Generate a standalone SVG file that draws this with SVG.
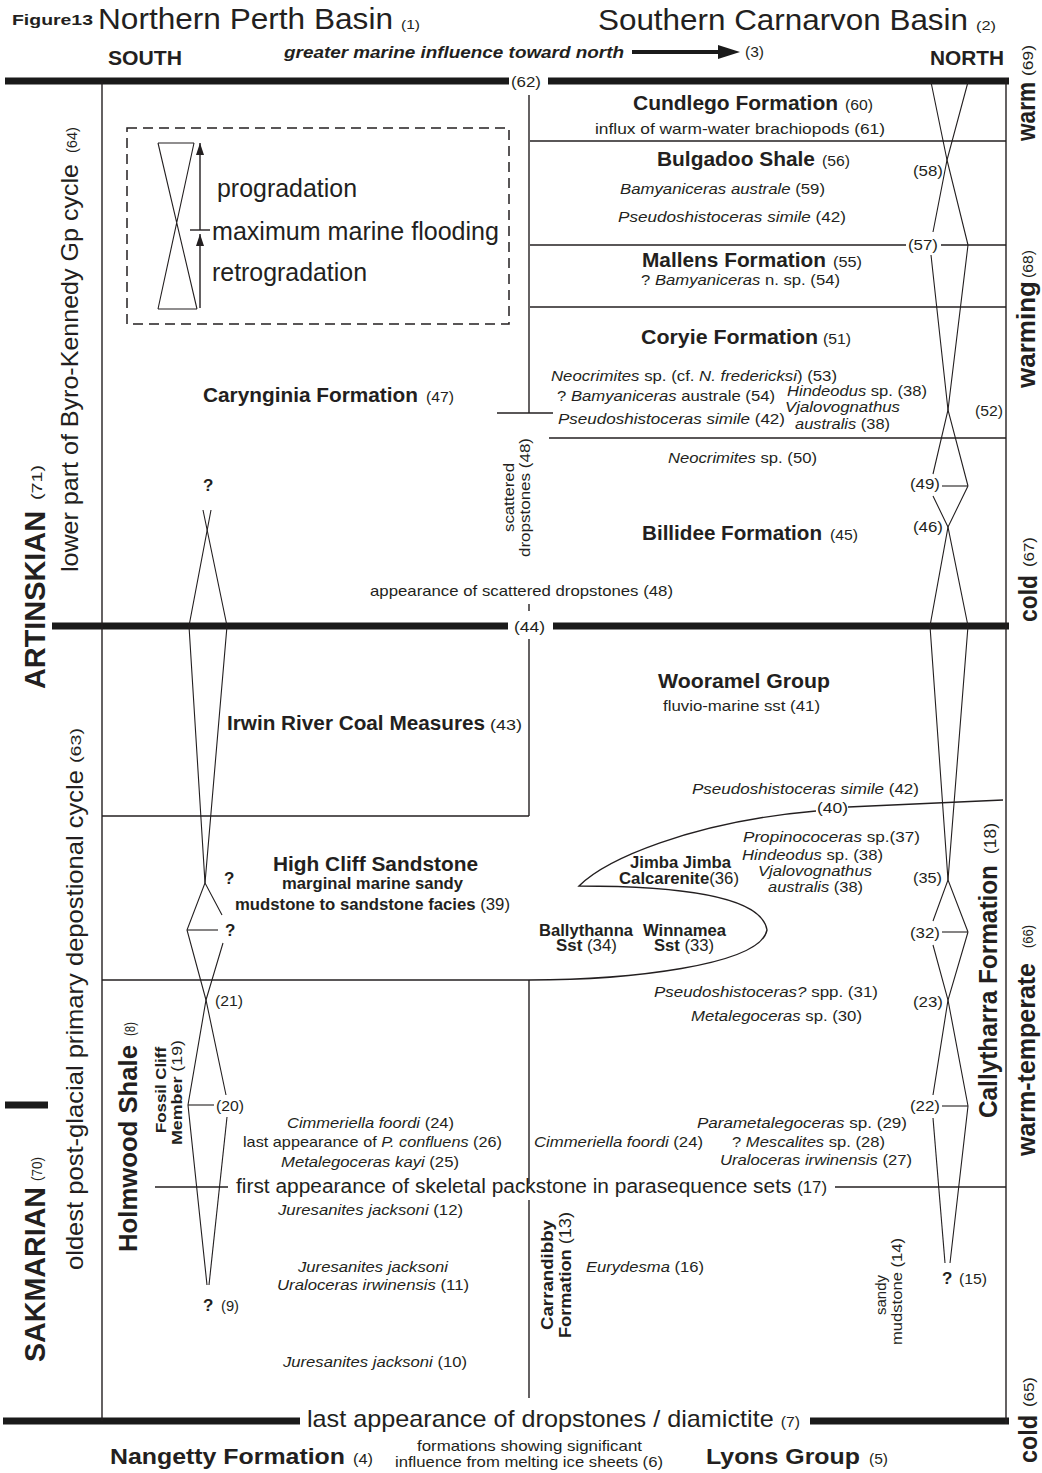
<svg xmlns="http://www.w3.org/2000/svg" width="1042" height="1473" viewBox="0 0 1042 1473">
<style>
text{font-family:"Liberation Sans",Arial,Helvetica,sans-serif;fill:#231f20}
.b{font-weight:bold}
.i{font-style:italic}
.r{font-style:normal;font-weight:normal}
.bi{font-weight:bold;font-style:italic}
.n{font-size:14px}
.sp{font-size:15px}
.fm{font-size:20px;font-weight:bold}
.ln{stroke:#231f20;stroke-width:1.4;fill:none}
.hg{stroke:#231f20;stroke-width:1.1;fill:none}
.tk{stroke:#1a1a1a;stroke-width:7;fill:none}
</style>
<defs>
<marker id="ah" viewBox="0 0 12 8" refX="12" refY="4" markerWidth="12" markerHeight="8" markerUnits="userSpaceOnUse" orient="auto">
<path d="M0,0 L12,4 L0,8 z" fill="#231f20"/>
</marker>
</defs>
<rect width="1042" height="1473" fill="#ffffff"/>

<g id="header">
<text x="12" y="25" class="b" font-size="15" textLength="81" lengthAdjust="spacingAndGlyphs">Figure13</text>
<text x="98" y="29" font-size="30" textLength="295" lengthAdjust="spacingAndGlyphs">Northern Perth Basin</text>
<text x="401" y="29" font-size="13" textLength="19" lengthAdjust="spacingAndGlyphs">(1)</text>
<text x="598" y="30" font-size="30" textLength="370" lengthAdjust="spacingAndGlyphs">Southern Carnarvon Basin</text>
<text x="976" y="30" font-size="13" textLength="20" lengthAdjust="spacingAndGlyphs">(2)</text>
<text x="108" y="65" class="b" font-size="21" textLength="74" lengthAdjust="spacingAndGlyphs">SOUTH</text>
<text x="284" y="58" class="bi" font-size="17" textLength="340" lengthAdjust="spacingAndGlyphs">greater marine influence toward north</text>
<line x1="632" y1="52" x2="722" y2="52" stroke="#1a1a1a" stroke-width="4"/>
<polygon points="718,45 740,52 718,59" fill="#1a1a1a"/>
<text x="745" y="57" font-size="14" textLength="19" lengthAdjust="spacingAndGlyphs">(3)</text>
<text x="930" y="65" class="b" font-size="21" textLength="74" lengthAdjust="spacingAndGlyphs">NORTH</text>
</g>

<g id="frame">
<line class="tk" x1="5" y1="81" x2="509" y2="81" stroke-width="6"/>
<line class="tk" x1="548" y1="81" x2="1009" y2="81" stroke-width="6"/>
<line class="tk" x1="52" y1="626" x2="508" y2="626"/>
<line class="tk" x1="553" y1="626" x2="1009" y2="626"/>
<line class="tk" x1="3" y1="1421" x2="300" y2="1421"/>
<line class="tk" x1="810" y1="1421" x2="1009" y2="1421"/>
<line class="tk" x1="5" y1="1105" x2="48" y2="1105" stroke-width="5"/>
<line class="ln" x1="102" y1="81" x2="102" y2="1421"/>
<line class="ln" x1="1006" y1="78" x2="1006" y2="1424" stroke-width="2"/>
<text x="511" y="87" class="n" textLength="30" lengthAdjust="spacingAndGlyphs">(62)</text>
<text x="514" y="632" class="n" textLength="31" lengthAdjust="spacingAndGlyphs">(44)</text>
</g>

<g id="connectors">
<line class="ln" x1="530" y1="141" x2="1006" y2="141"/>
<line class="ln" x1="530" y1="245" x2="906" y2="245"/>
<line class="ln" x1="941" y1="245" x2="1006" y2="245"/>
<line class="ln" x1="530" y1="307" x2="1006" y2="307"/>
<line class="ln" x1="497" y1="413" x2="553" y2="413"/>
<line class="ln" x1="549" y1="438" x2="1006" y2="438"/>
<line class="ln" x1="529" y1="95" x2="529" y2="413"/>
<line class="ln" x1="529" y1="604" x2="529" y2="611" stroke-width="2"/>
<line class="ln" x1="529" y1="639" x2="529" y2="816"/>
<line class="ln" x1="529" y1="980" x2="529" y2="1184"/>
<line class="ln" x1="529" y1="1200" x2="529" y2="1398"/>
<line class="ln" x1="102" y1="816" x2="529" y2="816"/>
<line class="ln" x1="102" y1="980" x2="529" y2="980"/>
<line class="ln" x1="155" y1="1187" x2="228" y2="1187"/>
<line class="ln" x1="835" y1="1187" x2="1006" y2="1187"/>
<path class="ln" stroke-width="1.8" d="M529,980 C625,980 760,966 767,930 C762,898 690,886 579,886 C605,860 690,822 816,811"/>
<path class="ln" stroke-width="1.8" d="M848,807 L1003,800"/>
</g>

<g id="legend">
<rect x="127" y="128" width="382" height="196" fill="none" stroke="#231f20" stroke-width="1.5" stroke-dasharray="10,6"/>
<path class="hg" d="M158,143 L194,143 M158,309 L197,309 M158,143 L197,309 M194,143 L158,309"/>
<line class="ln" x1="200" y1="230" x2="200" y2="143" marker-end="url(#ah)"/>
<line class="ln" x1="200" y1="308" x2="200" y2="234" marker-end="url(#ah)"/>
<line class="ln" x1="190" y1="230" x2="210" y2="230"/>
<text x="217" y="197" font-size="25" textLength="140" lengthAdjust="spacingAndGlyphs">progradation</text>
<text x="212" y="240" font-size="25" textLength="287" lengthAdjust="spacingAndGlyphs">maximum marine flooding</text>
<text x="212" y="281" font-size="25" textLength="155" lengthAdjust="spacingAndGlyphs">retrogradation</text>
</g>

<g id="left-labels">
<text transform="translate(45,689) rotate(-90)" class="b" font-size="30" textLength="178" lengthAdjust="spacingAndGlyphs">ARTINSKIAN</text>
<text transform="translate(42,500) rotate(-90)" font-size="15" textLength="35" lengthAdjust="spacingAndGlyphs">(71)</text>
<text transform="translate(78,572) rotate(-90)" font-size="24" textLength="408" lengthAdjust="spacingAndGlyphs">lower part of Byro-Kennedy Gp cycle</text>
<text transform="translate(77,153) rotate(-90)" font-size="14" textLength="26" lengthAdjust="spacingAndGlyphs">(64)</text>
<text transform="translate(45,1362) rotate(-90)" class="b" font-size="30" textLength="175" lengthAdjust="spacingAndGlyphs">SAKMARIAN</text>
<text transform="translate(42,1181) rotate(-90)" font-size="15" textLength="24" lengthAdjust="spacingAndGlyphs">(70)</text>
<text transform="translate(83,1270) rotate(-90)" font-size="24" textLength="500" lengthAdjust="spacingAndGlyphs">oldest post-glacial  primary  depostional cycle</text>
<text transform="translate(81,763) rotate(-90)" font-size="14" textLength="35" lengthAdjust="spacingAndGlyphs">(63)</text>
</g>

<g id="holmwood">
<text transform="translate(137,1252) rotate(-90)" class="b" font-size="26" textLength="207" lengthAdjust="spacingAndGlyphs">Holmwood Shale</text>
<text transform="translate(135,1036) rotate(-90)" font-size="14" textLength="14" lengthAdjust="spacingAndGlyphs">(8)</text>
<text transform="translate(166,1133) rotate(-90)" class="b" font-size="15" textLength="86" lengthAdjust="spacingAndGlyphs">Fossil Cliff</text>
<text transform="translate(182,1145) rotate(-90)" font-size="15" textLength="105" lengthAdjust="spacingAndGlyphs"><tspan class="b">Member</tspan> (19)</text>
</g>

<g id="left-column-cycles">
<polyline class="hg" points="211,510 189,626 205,883 187,930 206,1000 226,1095"/>
<polyline class="hg" points="203,510 227,626 205,883 222,915"/>
<line class="hg" x1="187" y1="930" x2="218" y2="930" stroke-width="1.4"/>
<polyline class="hg" points="223,943 206,1000 188,1105 207,1285"/>
<polyline class="hg" points="227,1117 209,1285"/>
<line class="hg" x1="188" y1="1105" x2="214" y2="1105" stroke-width="1.4"/>
<text x="203" y="491" class="b" font-size="17">?</text>
<text x="224" y="884" class="b" font-size="17">?</text>
<text x="225" y="936" class="b" font-size="17">?</text>
<text x="215" y="1006" class="n" textLength="28" lengthAdjust="spacingAndGlyphs">(21)</text>
<text x="216" y="1111" class="n" textLength="28" lengthAdjust="spacingAndGlyphs">(20)</text>
<text x="203" y="1311" class="b" font-size="17">?</text>
<text x="221" y="1311" class="n" textLength="18" lengthAdjust="spacingAndGlyphs">(9)</text>
</g>

<g id="carynginia">
<text x="203" y="402" class="fm" textLength="215" lengthAdjust="spacingAndGlyphs">Carynginia Formation</text>
<text x="426" y="402" class="n" textLength="28" lengthAdjust="spacingAndGlyphs">(47)</text>
</g>

<g id="scattered-dropstones">
<text transform="translate(514,532) rotate(-90)" class="n" textLength="69" lengthAdjust="spacingAndGlyphs">scattered</text>
<text transform="translate(530,557) rotate(-90)" class="n" textLength="119" lengthAdjust="spacingAndGlyphs">dropstones  (48)</text>
<text x="370" y="596" class="sp" textLength="303" lengthAdjust="spacingAndGlyphs">appearance of scattered dropstones (48)</text>
</g>

<g id="cundlego">
<text x="633" y="110" class="fm" font-size="19" textLength="205" lengthAdjust="spacingAndGlyphs">Cundlego Formation</text>
<text x="845" y="110" class="n" textLength="28" lengthAdjust="spacingAndGlyphs">(60)</text>
<text x="595" y="134" class="sp" textLength="290" lengthAdjust="spacingAndGlyphs">influx of  warm-water  brachiopods (61)</text>
</g>

<g id="bulgadoo">
<text x="657" y="166" class="fm" font-size="19" textLength="158" lengthAdjust="spacingAndGlyphs">Bulgadoo Shale</text>
<text x="822" y="166" class="n" textLength="28" lengthAdjust="spacingAndGlyphs">(56)</text>
<text x="620" y="194" class="sp" textLength="205" lengthAdjust="spacingAndGlyphs"><tspan class="i">Bamyaniceras australe</tspan> (59)</text>
<text x="618" y="222" class="sp" textLength="228" lengthAdjust="spacingAndGlyphs"><tspan class="i">Pseudoshistoceras simile</tspan>  (42)</text>
</g>

<g id="mallens">
<text x="642" y="267" class="fm" font-size="19" textLength="184" lengthAdjust="spacingAndGlyphs">Mallens Formation</text>
<text x="833" y="267" class="n" textLength="29" lengthAdjust="spacingAndGlyphs">(55)</text>
<text x="641" y="285" class="sp" textLength="199" lengthAdjust="spacingAndGlyphs">? <tspan class="i">Bamyaniceras</tspan> n. sp. (54)</text>
</g>

<g id="coryie">
<text x="641" y="344" class="fm" font-size="19" textLength="177" lengthAdjust="spacingAndGlyphs">Coryie Formation</text>
<text x="823" y="344" class="n" textLength="28" lengthAdjust="spacingAndGlyphs">(51)</text>
<text x="551" y="381" class="sp" textLength="286" lengthAdjust="spacingAndGlyphs"><tspan class="i">Neocrimites</tspan> sp. (cf. <tspan class="i">N. fredericksi</tspan>) (53)</text>
<text x="557" y="401" class="sp" textLength="218" lengthAdjust="spacingAndGlyphs">? <tspan class="i">Bamyaniceras</tspan> australe (54)</text>
<text x="558" y="424" class="sp" textLength="227" lengthAdjust="spacingAndGlyphs"><tspan class="i">Pseudoshistoceras simile</tspan>  (42)</text>
<text x="787" y="396" class="sp" textLength="140" lengthAdjust="spacingAndGlyphs"><tspan class="i">Hindeodus</tspan> sp. (38)</text>
<text x="785" y="412" class="sp i" textLength="115" lengthAdjust="spacingAndGlyphs">Vjalovognathus</text>
<text x="795" y="429" class="sp" textLength="95" lengthAdjust="spacingAndGlyphs"><tspan class="i">australis</tspan> (38)</text>
</g>

<g id="billidee">
<text x="668" y="463" class="sp" textLength="149" lengthAdjust="spacingAndGlyphs"><tspan class="i">Neocrimites</tspan> sp. (50)</text>
<text x="642" y="540" class="fm" font-size="19" textLength="180" lengthAdjust="spacingAndGlyphs">Billidee Formation</text>
<text x="830" y="540" class="n" textLength="28" lengthAdjust="spacingAndGlyphs">(45)</text>
</g>

<g id="right-column-cycles">
<polyline class="hg" points="931,82 947,160 933,232"/>
<polyline class="hg" points="968,82 947,160 968,245"/>
<polyline class="hg" points="931,255 948,410 968,486"/>
<polyline class="hg" points="968,245 948,410 933,474"/>
<line class="hg" x1="942" y1="486" x2="968" y2="486" stroke-width="1.4"/>
<polyline class="hg" points="933,496 948,527 930,626 948,880 933,921"/>
<polyline class="hg" points="968,486 948,527 968,626 948,880 968,932"/>
<line class="hg" x1="942" y1="932" x2="968" y2="932" stroke-width="1.4"/>
<polyline class="hg" points="933,945 948,1000 968,1106 950,1263"/>
<polyline class="hg" points="968,932 948,1000 933,1095"/>
<polyline class="hg" points="933,1118 945,1263"/>
<line class="hg" x1="942" y1="1106" x2="968" y2="1106" stroke-width="1.4"/>
<text x="913" y="176" class="n" textLength="30" lengthAdjust="spacingAndGlyphs">(58)</text>
<text x="908" y="250" class="n" textLength="30" lengthAdjust="spacingAndGlyphs">(57)</text>
<text x="975" y="416" class="n" textLength="28" lengthAdjust="spacingAndGlyphs">(52)</text>
<text x="910" y="489" class="n" textLength="30" lengthAdjust="spacingAndGlyphs">(49)</text>
<text x="913" y="532" class="n" textLength="30" lengthAdjust="spacingAndGlyphs">(46)</text>
<text x="913" y="883" class="n" textLength="29" lengthAdjust="spacingAndGlyphs">(35)</text>
<text x="910" y="938" class="n" textLength="30" lengthAdjust="spacingAndGlyphs">(32)</text>
<text x="913" y="1007" class="n" textLength="30" lengthAdjust="spacingAndGlyphs">(23)</text>
<text x="910" y="1111" class="n" textLength="30" lengthAdjust="spacingAndGlyphs">(22)</text>
<text x="942" y="1284" class="b" font-size="17">?</text>
<text x="959" y="1284" class="n" textLength="28" lengthAdjust="spacingAndGlyphs">(15)</text>
</g>

<g id="right-labels">
<text transform="translate(1035,141) rotate(-90)" class="b" font-size="25" textLength="59" lengthAdjust="spacingAndGlyphs">warm</text>
<text transform="translate(1033,76) rotate(-90)" font-size="14" textLength="31" lengthAdjust="spacingAndGlyphs">(69)</text>
<text transform="translate(1035,388) rotate(-90)" class="b" font-size="25" textLength="107" lengthAdjust="spacingAndGlyphs">warming</text>
<text transform="translate(1033,278) rotate(-90)" font-size="14" textLength="28" lengthAdjust="spacingAndGlyphs">(68)</text>
<text transform="translate(1037,622) rotate(-90)" class="b" font-size="25" textLength="47" lengthAdjust="spacingAndGlyphs">cold</text>
<text transform="translate(1034,567) rotate(-90)" font-size="14" textLength="30" lengthAdjust="spacingAndGlyphs">(67)</text>
<text transform="translate(1035,1156) rotate(-90)" class="b" font-size="25" textLength="193" lengthAdjust="spacingAndGlyphs">warm-temperate</text>
<text transform="translate(1033,948) rotate(-90)" font-size="14" textLength="23" lengthAdjust="spacingAndGlyphs">(66)</text>
<text transform="translate(1037,1463) rotate(-90)" class="b" font-size="25" textLength="48" lengthAdjust="spacingAndGlyphs">cold</text>
<text transform="translate(1034,1407) rotate(-90)" font-size="14" textLength="30" lengthAdjust="spacingAndGlyphs">(65)</text>
</g>

<g id="irwin-river">
<text x="227" y="730" class="fm" font-size="19" textLength="258" lengthAdjust="spacingAndGlyphs">Irwin River Coal Measures</text>
<text x="490" y="730" class="n" textLength="32" lengthAdjust="spacingAndGlyphs">(43)</text>
</g>

<g id="wooramel">
<text x="658" y="688" class="fm" textLength="172" lengthAdjust="spacingAndGlyphs">Wooramel Group</text>
<text x="663" y="711" class="sp" textLength="157" lengthAdjust="spacingAndGlyphs">fluvio-marine sst (41)</text>
<text x="692" y="794" class="sp" textLength="227" lengthAdjust="spacingAndGlyphs"><tspan class="i">Pseudoshistoceras simile</tspan>  (42)</text>
<text x="817" y="813" class="n" textLength="31" lengthAdjust="spacingAndGlyphs">(40)</text>
</g>

<g id="jimba-jimba">
<text x="743" y="842" class="sp" textLength="177" lengthAdjust="spacingAndGlyphs"><tspan class="i">Propinococeras</tspan>  sp.(37)</text>
<text x="742" y="860" class="sp" textLength="141" lengthAdjust="spacingAndGlyphs"><tspan class="i">Hindeodus</tspan> sp. (38)</text>
<text x="758" y="876" class="sp i" textLength="114" lengthAdjust="spacingAndGlyphs">Vjalovognathus</text>
<text x="768" y="892" class="sp" textLength="95" lengthAdjust="spacingAndGlyphs"><tspan class="i">australis</tspan> (38)</text>
<text x="630" y="868" class="b" font-size="16" textLength="101" lengthAdjust="spacingAndGlyphs">Jimba Jimba</text>
<text x="619" y="884" font-size="16" textLength="120" lengthAdjust="spacingAndGlyphs"><tspan class="b">Calcarenite</tspan>(36)</text>
</g>

<g id="ballythanna">
<text x="539" y="936" class="b" font-size="16" textLength="94" lengthAdjust="spacingAndGlyphs">Ballythanna</text>
<text x="556" y="951" font-size="16" textLength="61" lengthAdjust="spacingAndGlyphs"><tspan class="b">Sst</tspan> (34)</text>
</g>

<g id="winnamea">
<text x="643" y="936" class="b" font-size="16" textLength="83" lengthAdjust="spacingAndGlyphs">Winnamea</text>
<text x="654" y="951" font-size="16" textLength="60" lengthAdjust="spacingAndGlyphs"><tspan class="b">Sst</tspan> (33)</text>
</g>

<g id="high-cliff">
<text x="273" y="871" class="fm" textLength="205" lengthAdjust="spacingAndGlyphs">High Cliff Sandstone</text>
<text x="282" y="889" class="b" font-size="16" textLength="181" lengthAdjust="spacingAndGlyphs">marginal marine sandy</text>
<text x="235" y="910" font-size="16" textLength="275" lengthAdjust="spacingAndGlyphs"><tspan class="b">mudstone to sandstone facies</tspan> (39)</text>
</g>

<g id="callytharra">
<text x="654" y="997" class="sp" textLength="224" lengthAdjust="spacingAndGlyphs"><tspan class="i">Pseudoshistoceras?</tspan> spp.  (31)</text>
<text x="691" y="1021" class="sp" textLength="171" lengthAdjust="spacingAndGlyphs"><tspan class="i">Metalegoceras</tspan> sp. (30)</text>
<text x="697" y="1128" class="sp" textLength="210" lengthAdjust="spacingAndGlyphs"><tspan class="i">Parametalegoceras</tspan> sp.  (29)</text>
<text x="732" y="1147" class="sp" textLength="153" lengthAdjust="spacingAndGlyphs">? <tspan class="i">Mescalites</tspan> sp. (28)</text>
<text x="720" y="1165" class="sp" textLength="192" lengthAdjust="spacingAndGlyphs"><tspan class="i">Uraloceras irwinensis</tspan> (27)</text>
<text x="534" y="1147" class="sp" textLength="169" lengthAdjust="spacingAndGlyphs"><tspan class="i">Cimmeriella foordi</tspan> (24)</text>
<text transform="translate(997,1118) rotate(-90)" class="b" font-size="25" textLength="253" lengthAdjust="spacingAndGlyphs">Callytharra Formation</text>
<text transform="translate(996,854) rotate(-90)" font-size="16" textLength="31" lengthAdjust="spacingAndGlyphs">(18)</text>
</g>

<g id="holmwood-fossils">
<text x="287" y="1128" class="sp" textLength="167" lengthAdjust="spacingAndGlyphs"><tspan class="i">Cimmeriella foordi</tspan> (24)</text>
<text x="243" y="1147" class="sp" textLength="259" lengthAdjust="spacingAndGlyphs">last appearance of <tspan class="i">P. confluens</tspan> (26)</text>
<text x="281" y="1167" class="sp" textLength="178" lengthAdjust="spacingAndGlyphs"><tspan class="i">Metalegoceras kayi</tspan> (25)</text>
<text x="278" y="1215" class="sp" textLength="185" lengthAdjust="spacingAndGlyphs"><tspan class="i">Juresanites jacksoni</tspan> (12)</text>
<text x="298" y="1272" class="sp i" textLength="150" lengthAdjust="spacingAndGlyphs">Juresanites jacksoni</text>
<text x="277" y="1290" class="sp" textLength="192" lengthAdjust="spacingAndGlyphs"><tspan class="i">Uraloceras irwinensis</tspan> (11)</text>
<text x="283" y="1367" class="sp" textLength="184" lengthAdjust="spacingAndGlyphs"><tspan class="i">Juresanites jacksoni</tspan> (10)</text>
</g>

<g id="packstone-boundary">
<text x="236" y="1193" font-size="20" textLength="591" lengthAdjust="spacingAndGlyphs">first appearance of skeletal packstone in parasequence sets <tspan font-size="16">(17)</tspan></text>
</g>

<g id="carrandibby">
<text transform="translate(553,1330) rotate(-90)" class="b" font-size="16" textLength="110" lengthAdjust="spacingAndGlyphs">Carrandibby</text>
<text transform="translate(571,1338) rotate(-90)" font-size="16" textLength="126" lengthAdjust="spacingAndGlyphs"><tspan class="b">Formation</tspan> (13)</text>
<text x="586" y="1272" class="sp" textLength="118" lengthAdjust="spacingAndGlyphs"><tspan class="i">Eurydesma</tspan> (16)</text>
</g>

<g id="sandy-mudstone">
<text transform="translate(886,1315) rotate(-90)" class="n" textLength="40" lengthAdjust="spacingAndGlyphs">sandy</text>
<text transform="translate(902,1345) rotate(-90)" class="n" textLength="107" lengthAdjust="spacingAndGlyphs">mudstone (14)</text>
</g>

<g id="base">
<text x="307" y="1427" font-size="24" textLength="493" lengthAdjust="spacingAndGlyphs">last appearance of dropstones / diamictite <tspan font-size="15">(7)</tspan></text>
<text x="110" y="1464" class="b" font-size="22" textLength="235" lengthAdjust="spacingAndGlyphs">Nangetty Formation</text>
<text x="353" y="1464" font-size="15" textLength="20" lengthAdjust="spacingAndGlyphs">(4)</text>
<text x="417" y="1451" class="sp" textLength="225" lengthAdjust="spacingAndGlyphs">formations showing significant</text>
<text x="395" y="1467" class="sp" textLength="268" lengthAdjust="spacingAndGlyphs">influence from melting ice sheets (6)</text>
<text x="706" y="1464" class="b" font-size="22" textLength="154" lengthAdjust="spacingAndGlyphs">Lyons Group</text>
<text x="869" y="1464" font-size="15" textLength="19" lengthAdjust="spacingAndGlyphs">(5)</text>
</g>
</svg>
